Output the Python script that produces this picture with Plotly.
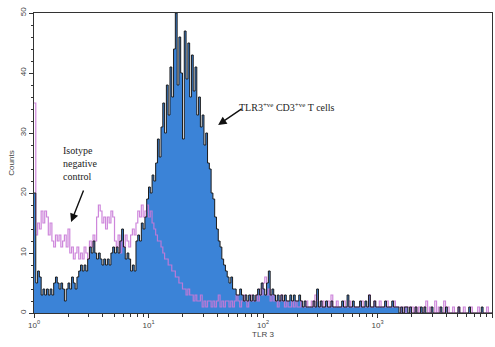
import numpy as np
import plotly.graph_objects as go

# Flow cytometry histogram: TLR3 fluorescence (log scale, 64 channels per decade)
CHANNELS_PER_DECADE = 64

# TLR3-stained CD3+ T cells (counts per channel)
tlr3_counts = [
    20, 5, 7, 6, 3, 4, 3, 4, 3, 4, 3, 5, 6, 5, 4, 5,
    4, 2, 4, 5, 4, 6, 5, 4, 6, 7, 8, 7, 8, 7, 9, 11,
    10, 12, 10, 9, 10, 9, 8, 9, 8, 9, 8, 10, 11, 10, 11, 10,
    12, 14, 11, 9, 10, 9, 7, 8, 7, 12, 13, 12, 15, 14, 16, 19,
    21, 20, 23, 22, 25, 29, 26, 31, 35, 30, 38, 33, 41, 36, 44, 50,
    38, 46, 40, 29, 47, 39, 45, 36, 43, 37, 41, 33, 36, 31, 33, 28,
    30, 25, 24, 20, 19, 16, 14, 12, 11, 9, 8, 7, 6, 5, 6, 4,
    4, 3, 3, 4, 3, 2, 3, 2, 3, 2, 3, 2, 3, 4, 3, 5,
    4, 3, 5, 7, 3, 4, 3, 2, 3, 2, 3, 2, 3, 2, 2, 3,
    2, 3, 2, 2, 3, 2, 1, 2, 1, 1, 1, 1, 2, 1, 4, 1,
    2, 1, 1, 2, 1, 1, 2, 1, 1, 1, 1, 1, 2, 1, 1, 3,
    1, 1, 2, 1, 1, 1, 2, 1, 1, 2, 1, 3, 1, 1, 2, 1,
    1, 1, 1, 1, 2, 1, 1, 1, 2, 1, 1, 1, 0, 1, 0, 1,
    1, 0, 1, 0, 0, 1, 0, 0, 1, 0, 1, 0, 0, 0, 1, 0,
    0, 0, 0, 1, 0, 0, 1, 0, 0, 0, 0, 0, 0, 1, 0, 0,
    0, 0, 0, 1, 0, 0, 0, 0, 0, 0, 1, 0, 0, 0, 0, 0,
]

# Isotype negative control (counts per channel)
isotype_counts = [
    35, 13, 15, 14, 17, 15, 17, 16, 13, 15, 12, 11, 13, 12, 13, 11,
    12, 13, 11, 14, 10, 11, 9, 10, 11, 9, 10, 9, 11, 10, 9, 12,
    11, 13, 12, 16, 18, 17, 15, 16, 14, 16, 15, 17, 16, 12, 11, 13,
    10, 12, 11, 13, 12, 11, 13, 14, 13, 15, 17, 16, 18, 16, 17, 18,
    16, 17, 15, 14, 13, 12, 12, 11, 10, 9, 9, 8, 8, 7, 7, 6,
    6, 5, 5, 4, 4, 3, 4, 3, 3, 2, 3, 2, 2, 3, 1, 2,
    1, 2, 2, 1, 2, 1, 2, 3, 1, 2, 1, 2, 2, 1, 2, 1,
    2, 3, 2, 1, 2, 3, 2, 1, 2, 3, 2, 2, 3, 2, 4, 3,
    5, 6, 3, 4, 2, 3, 2, 2, 1, 2, 3, 2, 1, 2, 1, 1,
    2, 1, 2, 1, 1, 2, 1, 1, 2, 1, 1, 2, 1, 3, 2, 1,
    1, 2, 1, 1, 2, 1, 3, 1, 1, 2, 1, 1, 1, 2, 1, 1,
    2, 1, 1, 1, 1, 1, 1, 2, 1, 1, 1, 3, 1, 1, 2, 1,
    1, 2, 1, 1, 1, 2, 1, 1, 1, 2, 1, 1, 1, 0, 1, 0,
    1, 1, 0, 1, 0, 1, 0, 1, 0, 0, 1, 2, 0, 1, 0, 0,
    2, 0, 1, 0, 0, 2, 0, 1, 0, 0, 1, 0, 0, 1, 0, 0,
    1, 0, 0, 0, 1, 0, 0, 0, 1, 0, 0, 0, 0, 1, 0, 0,
]

major_ticks = [1, 10, 100, 1000, 10000]
major_labels = ["10<sup>0</sup>", "10<sup>1</sup>", "10<sup>2</sup>", "10<sup>3</sup>", "10<sup>4</sup>"]
count_ticks = [0, 10, 20, 30, 40, 50]

n = len(tlr3_counts)
edges = 10 ** (np.arange(n + 1) / CHANNELS_PER_DECADE)
tlr3_y = tlr3_counts + [tlr3_counts[-1]]
iso_y = isotype_counts + [isotype_counts[-1]]

minor_x = [m * 10 ** d for d in range(4) for m in range(2, 10)]

fig = go.Figure()
fig.add_trace(go.Scatter(
    x=edges, y=tlr3_y, mode="lines", line=dict(shape="hv", width=0),
    fill="tozeroy", fillcolor="#3b83d7", hoverinfo="skip", showlegend=False,
))
fig.add_trace(go.Scatter(
    x=edges, y=iso_y, mode="lines", line=dict(shape="hv", width=1.2, color="#c97ad8"),
    opacity=0.9, showlegend=False,
))
fig.add_trace(go.Scatter(
    x=edges, y=tlr3_y, mode="lines", line=dict(shape="hv", width=1, color="#1c1c1c"),
    showlegend=False,
))

axis_font = dict(family="Liberation Sans, Arial, sans-serif", size=8, color="#444")
serif = dict(family="Liberation Serif, Times New Roman, serif", size=10, color="#222")

fig.update_layout(
    width=495, height=347,
    margin=dict(l=34, r=3, t=13, b=34),
    paper_bgcolor="white", plot_bgcolor="white",
    xaxis=dict(
        type="log", range=[0, 4],
        tickvals=major_ticks, ticktext=major_labels,
        ticks="outside", ticklen=4, tickcolor="#333",
        showline=True, linecolor="#333", linewidth=1, mirror=True,
        showgrid=False, zeroline=False,
        minor=dict(ticks="outside", ticklen=3, tickcolor="#333", tickvals=minor_x, showgrid=False),
        tickfont=axis_font,
        title=dict(text="TLR 3", font=axis_font, standoff=2),
    ),
    yaxis=dict(
        range=[0, 50], tickvals=count_ticks, tickangle=-90,
        ticks="outside", ticklen=4, tickcolor="#333",
        showline=True, linecolor="#333", linewidth=1, mirror=True,
        showgrid=False, zeroline=False,
        minor=dict(ticks="outside", ticklen=2.5, tickcolor="#333", dtick=2, showgrid=False),
        tickfont=axis_font,
        title=dict(text="Counts", font=axis_font, standoff=2),
    ),
    annotations=[
        dict(text="Isotype<br>negative<br>control", xref="paper", yref="paper",
             x=0.058, y=0.497, xanchor="left", showarrow=False, font=serif, align="left"),
        dict(text="", xref="paper", yref="paper", x=0.081, y=0.303,
             showarrow=True, ax=13, ay=-33, arrowhead=2, arrowsize=1.2,
             arrowwidth=1.4, arrowcolor="#111"),
        dict(text="TLR3<sup>+ve</sup> CD3<sup>+ve</sup> T cells", xref="paper", yref="paper",
             x=0.443, y=0.713, xanchor="left", showarrow=False, font=serif),
        dict(text="", xref="paper", yref="paper", x=0.402, y=0.627,
             showarrow=True, ax=25, ay=-17, arrowhead=2, arrowsize=1.2,
             arrowwidth=1.4, arrowcolor="#111"),
    ],
)

fig.write_html("out.html")
